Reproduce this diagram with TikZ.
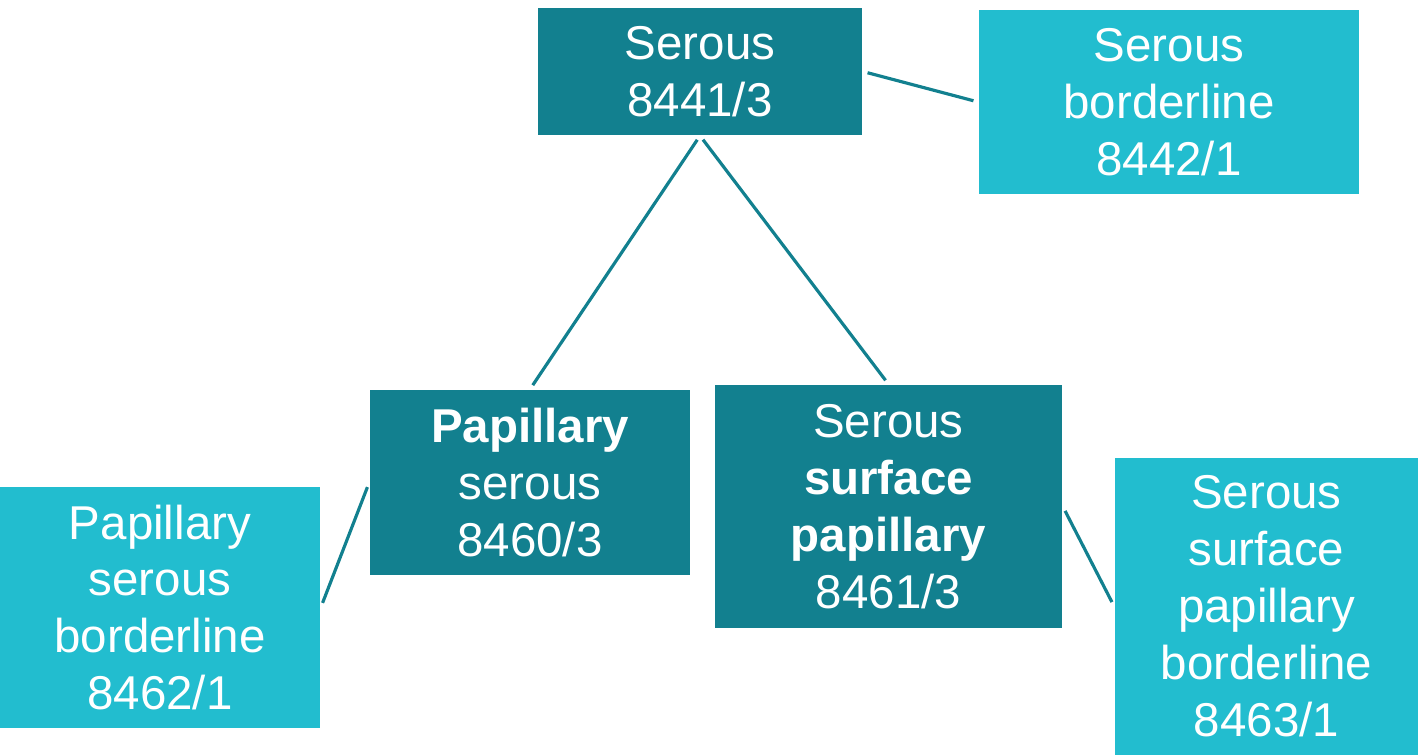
\documentclass[tikz,border=0pt]{standalone}
\usepackage{fontspec}
\setmainfont{Liberation Sans}
\definecolor{tealdark}{HTML}{12808F}
\definecolor{teallight}{HTML}{22BDCF}
\begin{document}
\begin{tikzpicture}[x=0.01cm,y=-0.01cm,box/.style={draw=none,align=center,text=white,font=\fontsize{13.5}{16.2}\selectfont,inner sep=0pt},dark/.style={box,fill=tealdark},light/.style={box,fill=teallight},link/.style={draw=tealdark,line width=0.9pt,shorten <=1.4pt,shorten >=1.4pt}]
\useasboundingbox (0,0) rectangle (1418,755);
\node[dark, minimum width=3.24cm, minimum height=1.27cm] (serous) at (700,71.5) {Serous\\8441/3};
\node[light, minimum width=3.80cm, minimum height=1.84cm] (serbord) at (1169,102) {Serous\\borderline\\8442/1};
\node[dark, minimum width=3.20cm, minimum height=1.85cm] (papser) at (530,482.5) {\textbf{Papillary}\\serous\\8460/3};
\node[dark, minimum width=3.47cm, minimum height=2.43cm] (surfpap) at (888.5,506.5) {Serous\\\textbf{surface}\\\textbf{papillary}\\8461/3};
\node[light, minimum width=3.20cm, minimum height=2.41cm] (papbord) at (160,607.5) {Papillary\\serous\\borderline\\8462/1};
\node[light, minimum width=3.03cm, minimum height=2.97cm] (surfbord) at (1266.5,606.5) {Serous\\surface\\papillary\\borderline\\8463/1};
\draw[link] (serous.east) -- (serbord.west);
\draw[link] (serous.south) -- (papser.north);
\draw[link] (serous.south) -- (surfpap.north);
\draw[link] (papser.west) -- (papbord.east);
\draw[link] (surfpap.east) -- (surfbord.west);
\end{tikzpicture}
\end{document}
